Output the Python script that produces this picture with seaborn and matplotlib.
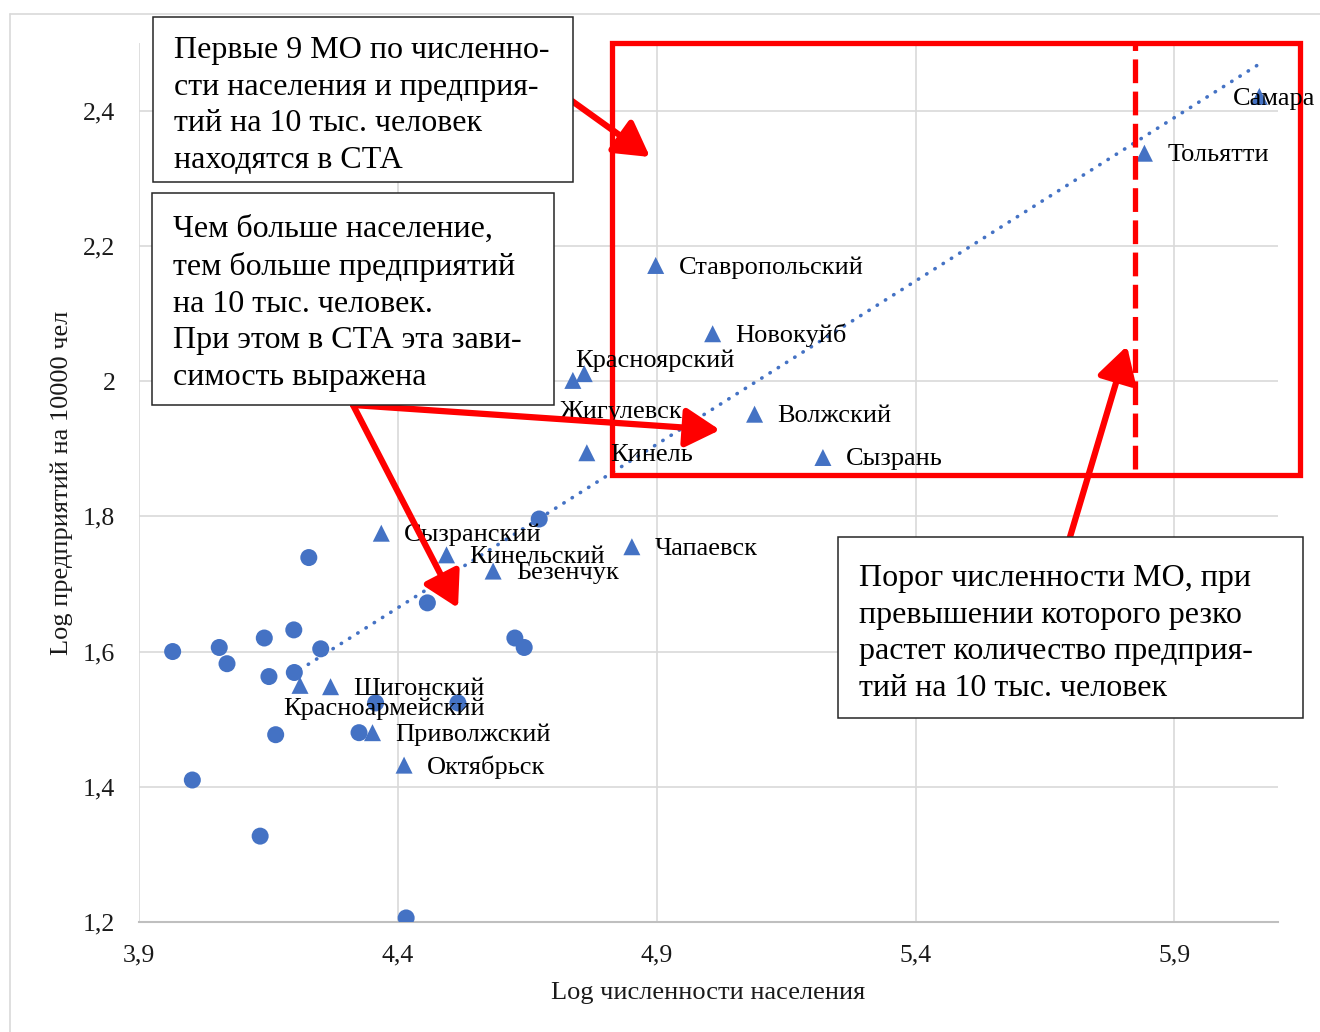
import matplotlib
matplotlib.use("Agg")
import matplotlib.pyplot as plt
from matplotlib.patches import Rectangle
from matplotlib.lines import Line2D
import numpy as np
import pandas as pd
import seaborn as sns

# Municipalities outside the agglomeration (circles)
other_x = [3.965, 4.055, 4.070, 4.142, 4.199, 4.151, 4.200, 4.251, 4.228, 4.457,
           4.673, 4.626, 4.644, 4.164, 4.325, 4.357, 4.516, 4.003, 4.134, 4.416]
other_y = [1.600, 1.606, 1.582, 1.620, 1.632, 1.563, 1.569, 1.604, 1.739, 1.672,
           1.796, 1.620, 1.606, 1.477, 1.480, 1.524, 1.524, 1.410, 1.327, 1.206]

# Municipalities of the agglomeration (triangles)
sta_names = ["Сызранский", "Кинельский", "Безенчук", "Красноармейский", "Шигонский",
             "Приволжский", "Октябрьск", "Новокуйб", "Красноярский", "Жигулевск",
             "Волжский", "Кинель", "Сызрань", "Чапаевск", "Ставропольский",
             "Тольятти", "Самара"]
sta_x = [4.368, 4.494, 4.584, 4.211, 4.270, 4.351, 4.412, 5.008, 4.760, 4.738,
         5.089, 4.765, 5.221, 4.852, 4.898, 5.842, 6.064]
sta_y = [1.775, 1.743, 1.719, 1.550, 1.548, 1.480, 1.432, 2.070, 2.011, 2.001,
         1.951, 1.894, 1.887, 1.755, 2.171, 2.337, 2.421]

x_ticks = [3.9, 4.4, 4.9, 5.4, 5.9]
x_tick_labels = ["3,9", "4,4", "4,9", "5,4", "5,9"]
y_ticks = [1.2, 1.4, 1.6, 1.8, 2.0, 2.2, 2.4]
y_tick_labels = ["1,2", "1,4", "1,6", "1,8", "2", "2,2", "2,4"]

threshold_x = 5.823
zone_x = (4.813, 6.143)
zone_y = (1.861, 2.500)

note_top = "Первые 9 МО по численно-\nсти населения и предприя-\nтий на 10 тыс. человек\nнаходятся в СТА"
note_mid = ("Чем больше население,\nтем больше предприятий\nна 10 тыс. человек.\n"
            "При этом в СТА эта зави-\nсимость выражена")
note_right = ("Порог численности МО, при\nпревышении которого резко\n"
              "растет количество предприя-\nтий на 10 тыс. человек")

BLUE = "#4472C4"
RED = "#FF0000"
W, H = 1320, 1032

sns.set_theme(style="white")
plt.rcParams["font.family"] = ["Liberation Serif", "DejaVu Serif"]

fig = plt.figure(figsize=(W / 100, H / 100), dpi=100)
fig.patch.set_facecolor("white")
ax = fig.add_axes([139 / W, 110 / H, (1278 - 139) / W, (922 - 43) / H])

df_other = pd.DataFrame({"x": other_x, "y": other_y})
df_sta = pd.DataFrame({"x": sta_x, "y": sta_y, "name": sta_names})

sns.regplot(data=df_sta, x="x", y="y", ax=ax, scatter=False, ci=None, truncate=True,
            line_kws=dict(color=BLUE, lw=2.6, linestyle=(0, (0.1, 2.6)),
                          dash_capstyle="round", zorder=2))
sns.scatterplot(data=df_other, x="x", y="y", ax=ax, marker="o", s=150, color=BLUE,
                edgecolor="none", zorder=3, legend=False)
sns.scatterplot(data=df_sta, x="x", y="y", ax=ax, marker="^", s=150, color=BLUE,
                edgecolor="none", zorder=3, legend=False)

# Data labels: right of the marker by default, a few moved by hand
label_shift = {"Красноярский": (-9, 13), "Жигулевск": (-13, -32),
               "Красноармейский": (-17, -23), "Самара": (-26, -3)}
for name, xv, yv in zip(sta_names, sta_x, sta_y):
    dx, dy = label_shift.get(name, (23, -2))
    ax.annotate(name, (xv, yv), xytext=(dx, dy), textcoords="offset pixels",
                ha="left", va="center", fontsize=19, color="black", zorder=5,
                annotation_clip=False)

ax.set_xlim(3.9, 6.1)
ax.set_ylim(1.2, 2.5)
ax.set_xticks(x_ticks, x_tick_labels)
ax.set_yticks(y_ticks, y_tick_labels)
ax.tick_params(length=0, labelsize=18.5, labelcolor="#1a1a1a")
ax.tick_params(axis="y", pad=17)
ax.tick_params(axis="x", pad=16)
ax.grid(True, color="#d9d9d9", lw=1.2)
ax.set_axisbelow(True)
for side in ["top", "right", "left"]:
    ax.spines[side].set_visible(False)
ax.spines["bottom"].set_color("#bfbfbf")
ax.spines["bottom"].set_linewidth(1.5)

ax.set_xlabel("Log численности населения", fontsize=19, color="#1a1a1a", va="center")
ax.set_ylabel("Log предприятий на 10000 чел", fontsize=19, color="#1a1a1a", va="center")
ax.xaxis.set_label_coords(0.4996, -(993 - 922) / 879)
ax.yaxis.set_label_coords(-(139 - 62) / 1139, 0.5)

# Highlighted zone of the agglomeration and the population threshold
ax.add_patch(Rectangle((zone_x[0], zone_y[0]), zone_x[1] - zone_x[0], zone_y[1] - zone_y[0],
                       fill=False, edgecolor=RED, lw=3.8, clip_on=False, zorder=4))
ax.plot([threshold_x, threshold_x], [1.87, zone_y[1]], color=RED, lw=3.8,
        linestyle=(0, (4.5, 1.6)), clip_on=False, zorder=4)


def fig_px(x, y):
    return (x, H - y)


def note(x0, y0, x1, y1, text, inset=22):
    fig.add_artist(Rectangle(fig_px(x0, y1), x1 - x0, y1 - y0, transform=None,
                             facecolor="white", edgecolor="#262626", lw=1.1, zorder=6))
    fig.text((x0 + 21) / W, 1 - (y0 + inset) / H, text, ha="left", va="top", fontsize=23,
             linespacing=1.345, color="black", zorder=7)


note(153, 17, 573, 182, note_top, inset=19)
note(152, 193, 554, 405, note_mid, inset=22)
note(838, 537, 1303, 718, note_right, inset=27)


def arrow(tail, tip):
    ax.annotate("", xy=fig_px(*tip), xycoords="figure pixels",
                xytext=fig_px(*tail), textcoords="figure pixels",
                arrowprops=dict(arrowstyle="-|>,head_length=1.05,head_width=0.6",
                                mutation_scale=20, color=RED, lw=4.5,
                                shrinkA=0, shrinkB=0),
                annotation_clip=False, zorder=8)


arrow((572, 101), (650, 157))
arrow((353, 405), (720, 430))
arrow((353, 405), (458, 608))
arrow((1070, 537), (1127, 346))

# Chart area frame
fig.add_artist(Line2D([10, W], [H - 14, H - 14], transform=None, color="#d9d9d9", lw=1.2))
fig.add_artist(Line2D([10, 10], [0, H - 14], transform=None, color="#d9d9d9", lw=1.2))

fig.savefig("out.png", dpi=100, facecolor="white")
